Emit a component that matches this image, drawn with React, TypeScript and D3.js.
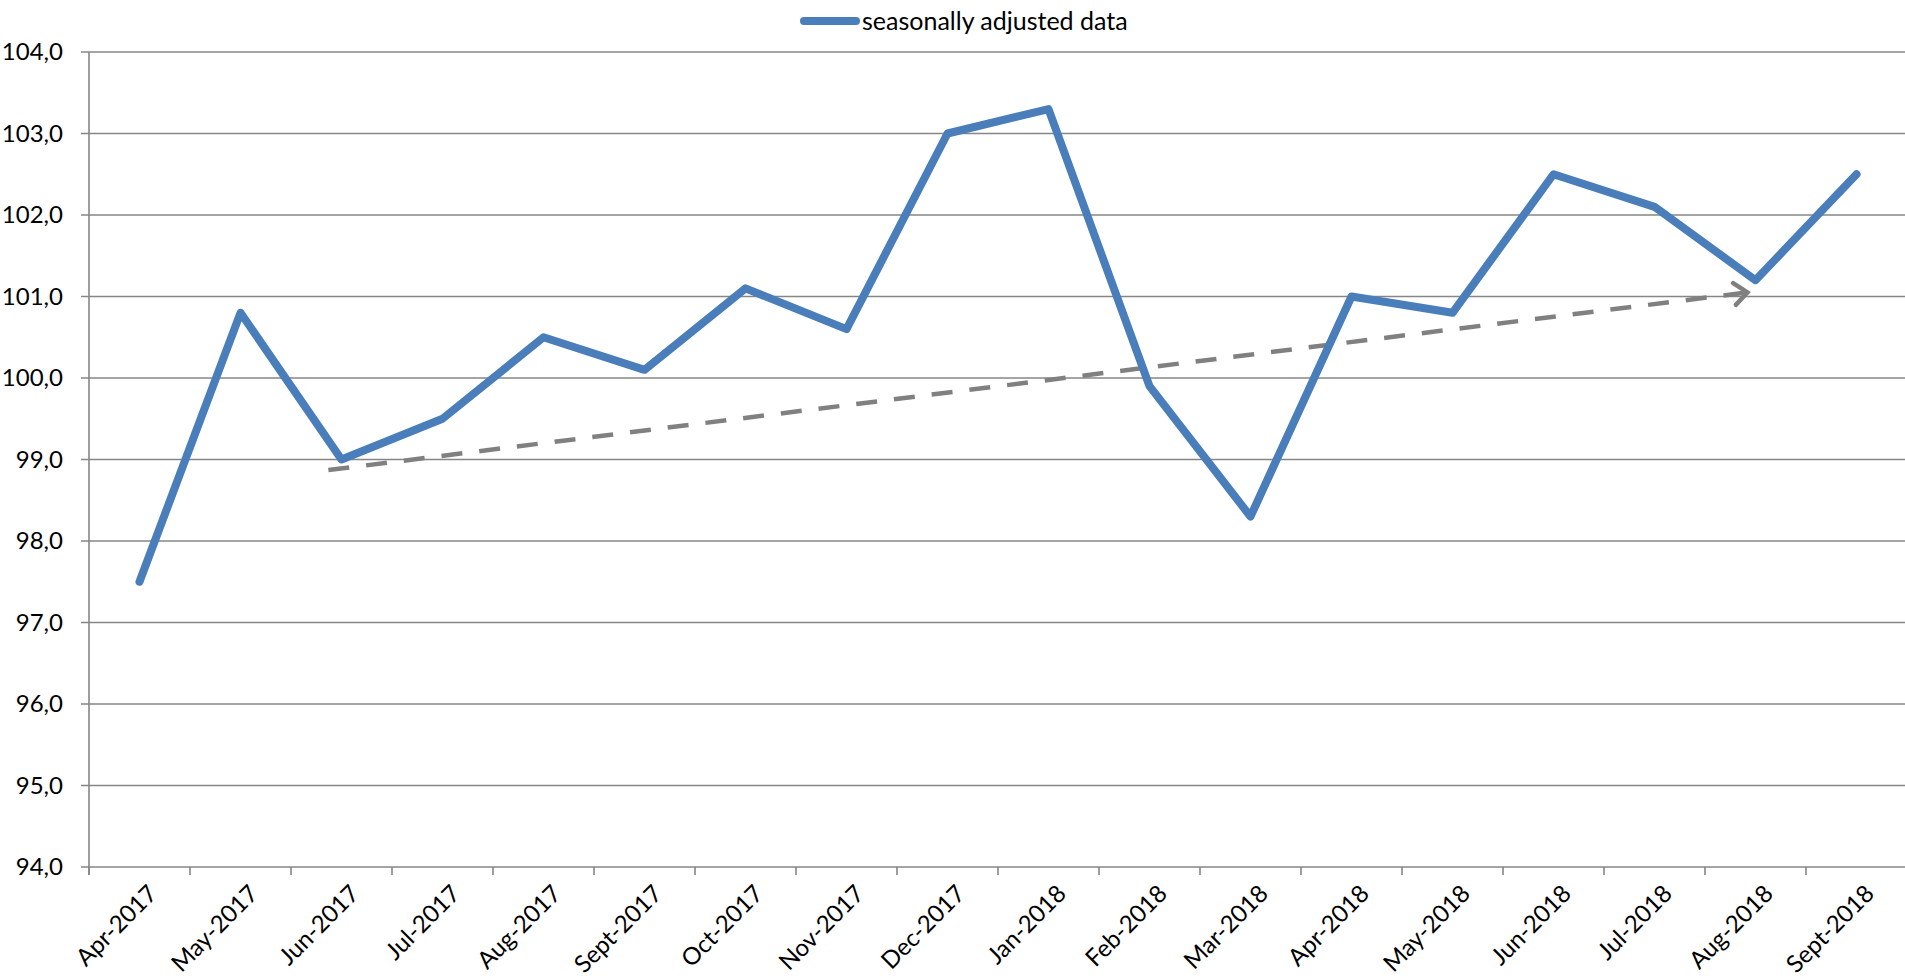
import React from "react";
import * as d3 from "d3";

const categories = [
  "Apr-2017", "May-2017", "Jun-2017", "Jul-2017", "Aug-2017", "Sept-2017",
  "Oct-2017", "Nov-2017", "Dec-2017", "Jan-2018", "Feb-2018", "Mar-2018",
  "Apr-2018", "May-2018", "Jun-2018", "Jul-2018", "Aug-2018", "Sept-2018",
];
const seasonallyAdjusted = [
  97.5, 100.8, 99.0, 99.5, 100.5, 100.1, 101.1, 100.6, 103.0, 103.3,
  99.9, 98.3, 101.0, 100.8, 102.5, 102.1, 101.2, 102.5,
];
const yTicks = [94, 95, 96, 97, 98, 99, 100, 101, 102, 103, 104];
// trend arrow: [category index position, value]
const trendStart = [1.87, 98.87];
const trendEnd = [15.92, 101.05];
const seriesName = "seasonally adjusted data";

const W = 1905;
const H = 980;
const left = 89;
const top = 52;
const bottom = 867;
const right = 1907;
const font = "Lato, 'Open Sans', sans-serif";
const fs = 24;

export default function App() {
  const x = d3.scaleLinear().domain([-0.5, categories.length - 0.5]).range([left, right]);
  const y = d3.scaleLinear().domain([94, 104]).range([bottom, top]);
  const line = d3
    .line<number>()
    .x((_, i) => x(i))
    .y((d) => y(d));
  const fmt = (v: number) => v.toFixed(1).replace(".", ",");

  const x1 = x(trendStart[0]);
  const y1 = y(trendStart[1]);
  const x2 = x(trendEnd[0]);
  const y2 = y(trendEnd[1]);
  const ang = Math.atan2(y2 - y1, x2 - x1);
  const ah = 17;
  const spread = (40 * Math.PI) / 180;
  const a1 = [x2 - ah * Math.cos(ang - spread), y2 - ah * Math.sin(ang - spread)];
  const a2 = [x2 - ah * Math.cos(ang + spread), y2 - ah * Math.sin(ang + spread)];

  return (
    <svg
      width={W}
      height={H}
      style={{ position: "absolute", left: 0, top: 0, background: "#fff" }}
      fontFamily={font}
    >
      {yTicks.map((t) => (
        <g key={t}>
          <line x1={left - 8} x2={W} y1={y(t)} y2={y(t)} stroke="#868686" strokeWidth={1.6} />
          <text x={63} y={y(t)} dy="0.35em" textAnchor="end" fontSize={fs} fill="#000">
            {fmt(t)}
          </text>
        </g>
      ))}
      <line x1={left} x2={left} y1={top} y2={bottom + 8} stroke="#868686" strokeWidth={1.6} />
      {d3.range(categories.length + 1).map((k) => (
        <line
          key={k}
          x1={x(k - 0.5)}
          x2={x(k - 0.5)}
          y1={bottom}
          y2={bottom + 8}
          stroke="#868686"
          strokeWidth={1.6}
        />
      ))}
      {categories.map((c, i) => (
        <text
          key={c}
          transform={`translate(${x(i) + 7},${bottom + 16}) rotate(-45)`}
          textAnchor="end"
          dy="0.71em"
          fontSize={fs}
          fill="#000"
        >
          {c}
        </text>
      ))}
      <line
        x1={x1}
        y1={y1}
        x2={x2 - 3 * Math.cos(ang)}
        y2={y2 - 3 * Math.sin(ang)}
        stroke="#808080"
        strokeWidth={4.5}
        strokeDasharray="21 17"
      />
      <polyline
        points={`${a1[0]},${a1[1]} ${x2},${y2} ${a2[0]},${a2[1]}`}
        fill="none"
        stroke="#808080"
        strokeWidth={4.5}
        strokeLinecap="round"
        strokeLinejoin="miter"
      />
      <path
        d={line(seasonallyAdjusted) || ""}
        fill="none"
        stroke="#4A7EBB"
        strokeWidth={8}
        strokeLinejoin="round"
        strokeLinecap="round"
      />
      <line x1={804} x2={856} y1={21} y2={21} stroke="#4A7EBB" strokeWidth={8} strokeLinecap="round" />
      <text x={862} y={21} dy="0.35em" fontSize={25} fill="#000">
        {seriesName}
      </text>
    </svg>
  );
}
